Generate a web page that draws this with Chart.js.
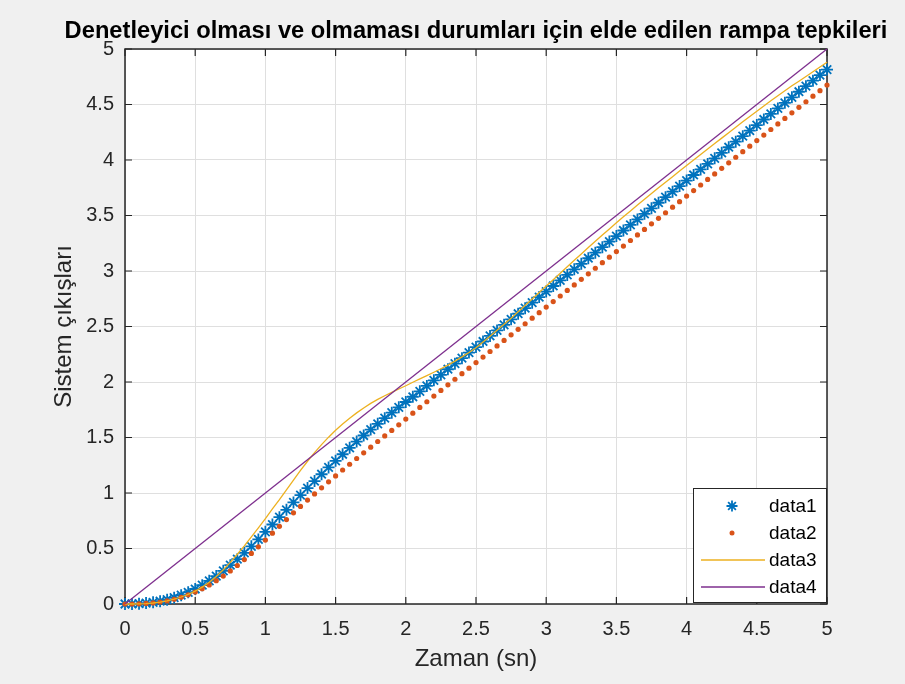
<!DOCTYPE html>
<html>
<head>
<meta charset="utf-8">
<script src="https://cdn.jsdelivr.net/npm/chart.js@4.4.0/dist/chart.umd.min.js"></script>
<style>
  html, body { margin: 0; padding: 0; background: #f0f0f0; }
  #wrap { width: 905px; height: 684px; }
</style>
</head>
<body>
<div id="wrap"><canvas id="chart" width="905" height="684"></canvas></div>
<script>
// Time axis (sn), sampled every 0.05 s
const timeValues = [
  0, 0.05, 0.1, 0.15, 0.2, 0.25, 0.3, 0.35, 0.4, 0.45,
  0.5, 0.55, 0.6, 0.65, 0.7, 0.75, 0.8, 0.85, 0.9, 0.95,
  1, 1.05, 1.1, 1.15, 1.2, 1.25, 1.3, 1.35, 1.4, 1.45,
  1.5, 1.55, 1.6, 1.65, 1.7, 1.75, 1.8, 1.85, 1.9, 1.95,
  2, 2.05, 2.1, 2.15, 2.2, 2.25, 2.3, 2.35, 2.4, 2.45,
  2.5, 2.55, 2.6, 2.65, 2.7, 2.75, 2.8, 2.85, 2.9, 2.95,
  3, 3.05, 3.1, 3.15, 3.2, 3.25, 3.3, 3.35, 3.4, 3.45,
  3.5, 3.55, 3.6, 3.65, 3.7, 3.75, 3.8, 3.85, 3.9, 3.95,
  4, 4.05, 4.1, 4.15, 4.2, 4.25, 4.3, 4.35, 4.4, 4.45,
  4.5, 4.55, 4.6, 4.65, 4.7, 4.75, 4.8, 4.85, 4.9, 4.95,
  5
];

// data1 (asterisks)
const data1Values = [
  0.000, 0.001, 0.003, 0.008, 0.015, 0.025, 0.039, 0.057, 0.079, 0.105,
  0.135, 0.170, 0.209, 0.252, 0.299, 0.350, 0.404, 0.461, 0.520, 0.582,
  0.650, 0.716, 0.782, 0.848, 0.915, 0.980, 1.044, 1.107, 1.169, 1.230,
  1.290, 1.349, 1.407, 1.463, 1.518, 1.571, 1.623, 1.674, 1.724, 1.772,
  1.820, 1.867, 1.916, 1.965, 2.015, 2.065, 2.115, 2.165, 2.215, 2.265,
  2.315, 2.365, 2.415, 2.465, 2.515, 2.565, 2.615, 2.665, 2.715, 2.765,
  2.815, 2.865, 2.915, 2.965, 3.015, 3.065, 3.115, 3.165, 3.215, 3.265,
  3.315, 3.365, 3.415, 3.465, 3.515, 3.565, 3.615, 3.665, 3.715, 3.765,
  3.815, 3.865, 3.915, 3.965, 4.015, 4.065, 4.115, 4.165, 4.215, 4.265,
  4.315, 4.365, 4.415, 4.465, 4.515, 4.565, 4.615, 4.665, 4.715, 4.765,
  4.815
];

// data2 (dots)
const data2Values = [
  0.000, 0.000, 0.002, 0.005, 0.010, 0.018, 0.029, 0.043, 0.061, 0.083,
  0.108, 0.138, 0.172, 0.210, 0.252, 0.298, 0.347, 0.400, 0.456, 0.515,
  0.576, 0.638, 0.700, 0.761, 0.821, 0.879, 0.936, 0.992, 1.047, 1.101,
  1.154, 1.207, 1.259, 1.311, 1.362, 1.413, 1.464, 1.514, 1.564, 1.614,
  1.666, 1.719, 1.771, 1.822, 1.873, 1.924, 1.975, 2.025, 2.075, 2.125,
  2.175, 2.225, 2.275, 2.325, 2.375, 2.425, 2.475, 2.525, 2.575, 2.625,
  2.675, 2.725, 2.775, 2.825, 2.875, 2.925, 2.975, 3.025, 3.075, 3.125,
  3.175, 3.225, 3.275, 3.325, 3.375, 3.425, 3.475, 3.525, 3.575, 3.625,
  3.675, 3.725, 3.775, 3.825, 3.875, 3.925, 3.975, 4.025, 4.075, 4.125,
  4.175, 4.225, 4.275, 4.325, 4.375, 4.425, 4.475, 4.525, 4.575, 4.625,
  4.675
];

// data3 (yellow line)
const data3Values = [
  0.000, 0.000, 0.001, 0.004, 0.009, 0.017, 0.028, 0.043, 0.063, 0.087,
  0.116, 0.152, 0.195, 0.248, 0.308, 0.375, 0.448, 0.524, 0.604, 0.686,
  0.770, 0.856, 0.940, 1.029, 1.117, 1.203, 1.286, 1.364, 1.436, 1.503,
  1.565, 1.622, 1.674, 1.722, 1.766, 1.807, 1.843, 1.876, 1.907, 1.937,
  1.966, 1.998, 2.028, 2.058, 2.088, 2.119, 2.152, 2.188, 2.226, 2.266,
  2.308, 2.360, 2.413, 2.467, 2.521, 2.575, 2.632, 2.690, 2.748, 2.806,
  2.864, 2.922, 2.980, 3.038, 3.096, 3.154, 3.211, 3.268, 3.324, 3.379,
  3.434, 3.488, 3.541, 3.594, 3.646, 3.698, 3.749, 3.800, 3.850, 3.900,
  3.950, 4.000, 4.050, 4.099, 4.148, 4.197, 4.246, 4.295, 4.344, 4.392,
  4.440, 4.487, 4.533, 4.579, 4.624, 4.669, 4.710, 4.752, 4.795, 4.838,
  4.880
];

// data4 (ramp input)
const rampTimes = [0, 5];
const rampValues = [0, 5];

const seriesLabels = ['data1', 'data2', 'data3', 'data4'];
const xTickLabels = ['0', '0.5', '1', '1.5', '2', '2.5', '3', '3.5', '4', '4.5', '5'];
const yTickLabels = ['0', '0.5', '1', '1.5', '2', '2.5', '3', '3.5', '4', '4.5', '5'];
const chartTitle = 'Denetleyici olması ve olmaması durumları için elde edilen rampa tepkileri';
const xAxisTitle = 'Zaman (sn)';
const yAxisTitle = 'Sistem çıkışları';

const FONT = "'Liberation Sans', Arial, Helvetica, sans-serif";
const AXIS_COLOR = '#262626';
const GRID_COLOR = '#dfdfdf';
const COLORS = ['#0072bd', '#d95319', '#edb120', '#7e2f8e'];

Chart.defaults.font.family = FONT;

const toPoints = (xs, ys) => xs.map((x, i) => ({ x, y: ys[i] }));

function drawAsterisk(ctx, x, y, r) {
    const d = r * Math.SQRT1_2;
    ctx.beginPath();
    ctx.moveTo(x - r, y); ctx.lineTo(x + r, y);
    ctx.moveTo(x, y - r); ctx.lineTo(x, y + r);
    ctx.moveTo(x - d, y - d); ctx.lineTo(x + d, y + d);
    ctx.moveTo(x - d, y + d); ctx.lineTo(x + d, y - d);
    ctx.stroke();
}

// Figure background and white axes area
const backgroundPlugin = {
    id: 'figureBackground',
    beforeDraw(chart) {
        const { ctx, chartArea: a } = chart;
        ctx.save();
        ctx.fillStyle = '#f0f0f0';
        ctx.fillRect(0, 0, chart.width, chart.height);
        ctx.fillStyle = '#ffffff';
        ctx.fillRect(a.left, a.top, a.right - a.left, a.bottom - a.top);
        ctx.restore();
    }
};

// Axes box with inward ticks, legend and title
const framePlugin = {
    id: 'axesFrame',
    beforeDatasetsDraw(chart) {
        const { ctx, chartArea: a, scales } = chart;
        const len = 7;
        ctx.save();
        ctx.strokeStyle = AXIS_COLOR;
        ctx.lineWidth = 1.5;
        ctx.strokeRect(a.left, a.top, a.right - a.left, a.bottom - a.top);
        ctx.lineWidth = 1.2;
        ctx.beginPath();
        scales.x.ticks.forEach(t => {
            const px = scales.x.getPixelForValue(t.value);
            ctx.moveTo(px, a.bottom); ctx.lineTo(px, a.bottom - len);
            ctx.moveTo(px, a.top); ctx.lineTo(px, a.top + len);
        });
        scales.y.ticks.forEach(t => {
            const py = scales.y.getPixelForValue(t.value);
            ctx.moveTo(a.left, py); ctx.lineTo(a.left + len, py);
            ctx.moveTo(a.right, py); ctx.lineTo(a.right - len, py);
        });
        ctx.stroke();
        ctx.restore();
    },
    afterDatasetsDraw(chart) {
        const { ctx, chartArea: a } = chart;
        // legend box, bottom-right corner inside the axes
        const w = 133, rowH = 27;
        const h = rowH * chart.data.datasets.length + 6;
        const x0 = a.right - w - 1, y0 = a.bottom - h - 2;
        ctx.save();
        ctx.fillStyle = '#ffffff';
        ctx.fillRect(x0, y0, w, h);
        ctx.strokeStyle = AXIS_COLOR;
        ctx.lineWidth = 1;
        ctx.strokeRect(x0 + 0.5, y0 + 0.5, w, h);
        ctx.font = '19px ' + FONT;
        ctx.textBaseline = 'middle';
        ctx.textAlign = 'left';
        chart.data.datasets.forEach((ds, i) => {
            const cy = y0 + 18 + i * rowH;
            const kind = ds.legendKind;
            if (kind === 'star') {
                ctx.strokeStyle = ds.borderColor;
                ctx.lineWidth = 1.8;
                drawAsterisk(ctx, x0 + 39, cy, 5.5);
            } else if (kind === 'dot') {
                ctx.fillStyle = ds.backgroundColor;
                ctx.beginPath();
                ctx.arc(x0 + 39, cy, 2.5, 0, Math.PI * 2);
                ctx.fill();
            } else {
                ctx.strokeStyle = ds.borderColor;
                ctx.lineWidth = 1.3;
                ctx.beginPath();
                ctx.moveTo(x0 + 8, cy); ctx.lineTo(x0 + 72, cy);
                ctx.stroke();
            }
            ctx.fillStyle = '#000000';
            ctx.fillText(ds.label, x0 + 76, cy + 1);
        });
        ctx.restore();
    },
    afterDraw(chart) {
        const { ctx, chartArea: a } = chart;
        ctx.save();
        ctx.fillStyle = '#000000';
        ctx.font = 'bold 23.7px ' + FONT;
        ctx.textAlign = 'center';
        ctx.textBaseline = 'middle';
        ctx.fillText(chartTitle, (a.left + a.right) / 2, 31);
        ctx.restore();
    }
};

const tickFont = { family: FONT, size: 20 };
const titleFont = { family: FONT, size: 24 };

const chart = new Chart(document.getElementById('chart').getContext('2d'), {
    type: 'scatter',
    data: {
        datasets: [
            {
                label: seriesLabels[0],
                data: toPoints(timeValues, data1Values),
                legendKind: 'star',
                pointStyle: 'star',
                pointRadius: 6,
                borderColor: COLORS[0],
                backgroundColor: COLORS[0],
                pointBorderWidth: 1.8,
                showLine: false,
                clip: false,
                order: 4
            },
            {
                label: seriesLabels[1],
                data: toPoints(timeValues, data2Values),
                legendKind: 'dot',
                pointStyle: 'circle',
                pointRadius: 2.6,
                pointBorderWidth: 0,
                borderColor: COLORS[1],
                backgroundColor: COLORS[1],
                showLine: false,
                clip: false,
                order: 3
            },
            {
                label: seriesLabels[2],
                data: toPoints(timeValues, data3Values),
                legendKind: 'line',
                showLine: true,
                pointRadius: 0,
                borderColor: COLORS[2],
                backgroundColor: COLORS[2],
                borderWidth: 1.3,
                tension: 0,
                clip: false,
                order: 2
            },
            {
                label: seriesLabels[3],
                data: toPoints(rampTimes, rampValues),
                legendKind: 'line',
                showLine: true,
                pointRadius: 0,
                borderColor: COLORS[3],
                backgroundColor: COLORS[3],
                borderWidth: 1.3,
                clip: false,
                order: 1
            }
        ]
    },
    options: {
        responsive: false,
        animation: false,
        devicePixelRatio: 1,
        layout: { padding: { top: 49, right: 78, bottom: 0, left: 0 } },
        plugins: {
            legend: { display: false },
            tooltip: { enabled: false },
            title: { display: false }
        },
        scales: {
            x: {
                type: 'linear',
                min: 0,
                max: 5,
                ticks: {
                    stepSize: 0.5,
                    autoSkip: false,
                    maxRotation: 0,
                    padding: 13,
                    color: AXIS_COLOR,
                    font: tickFont,
                    callback: (v, i) => xTickLabels[i]
                },
                grid: { color: GRID_COLOR, drawTicks: false, lineWidth: 1 },
                border: { display: false },
                title: {
                    display: true,
                    text: xAxisTitle,
                    color: AXIS_COLOR,
                    font: titleFont,
                    padding: { top: 0, bottom: 10 }
                },
                afterFit: scale => { scale.height = 80; }
            },
            y: {
                type: 'linear',
                min: 0,
                max: 5,
                ticks: {
                    stepSize: 0.5,
                    autoSkip: false,
                    padding: 11,
                    color: AXIS_COLOR,
                    font: tickFont,
                    callback: (v, i) => yTickLabels[i]
                },
                grid: { color: GRID_COLOR, drawTicks: false, lineWidth: 1 },
                border: { display: false },
                title: {
                    display: true,
                    text: yAxisTitle,
                    color: AXIS_COLOR,
                    font: titleFont,
                    padding: { top: 50, bottom: 0 }
                },
                afterFit: scale => { scale.width = 125; }
            }
        }
    },
    plugins: [backgroundPlugin, framePlugin]
});
</script>
</body>
</html>
